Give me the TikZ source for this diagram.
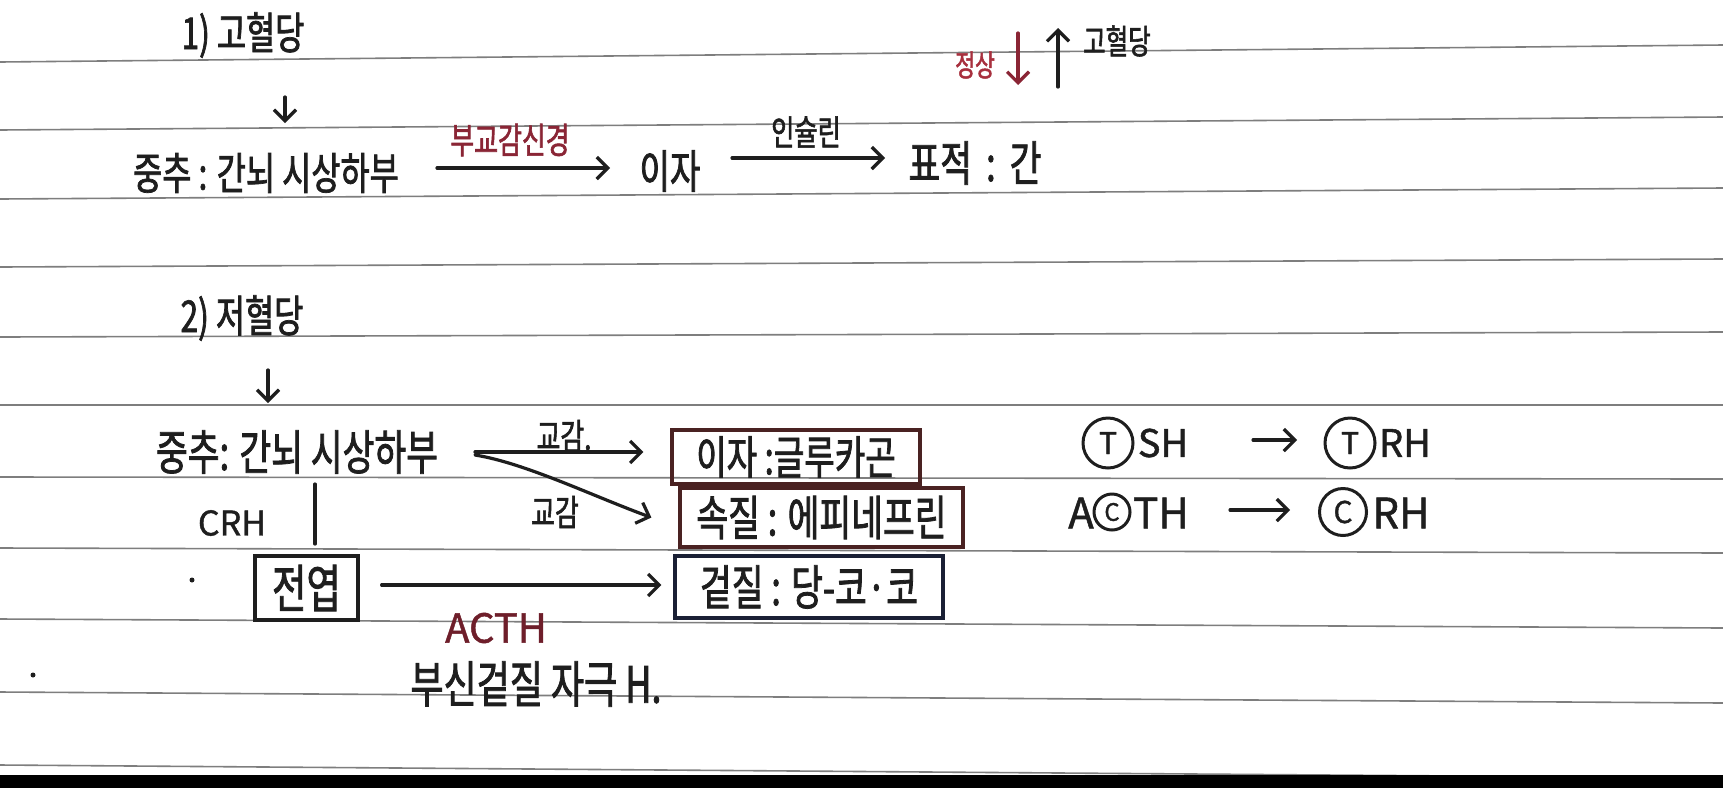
\documentclass[tikz,border=0pt]{standalone}
\usepackage{fontspec}
\usetikzlibrary{arrows.meta}
\newfontfamily\hand[FakeStretch=0.72,FakeBold=1.6]{Noto Sans CJK KR}
\newfontfamily\handL[FakeBold=1.2]{Noto Sans CJK KR}
\newcommand\fsz[1]{\fontsize{#1}{#1}\selectfont}
\newcommand\hf[1]{\hand\fsz{#1}}
\newcommand\lf[1]{\handL\fsz{#1}}
\definecolor{ink}{HTML}{1E1E1E}
\definecolor{maroon}{HTML}{8A2535}
\definecolor{redink}{HTML}{A8303E}
\definecolor{boxr}{HTML}{4A2222}
\definecolor{boxb}{HTML}{1A2035}
\definecolor{rulecol}{HTML}{7E7E7E}
\begin{document}
\begin{tikzpicture}[x=1pt,y=-1pt,
  txt/.style={inner sep=0pt, text=ink},
  arr/.style={-{Straight Barb[length=11pt,width=22pt]}, line width=3.2pt, draw=ink, line cap=round, line join=round},
  boxn/.style={draw, line width=3.2pt, inner sep=0pt, text=ink},
  circ/.style={circle, draw=ink, line width=3pt, inner sep=0pt, text=ink},
  rule/.style={draw=rulecol, line width=1.6pt}]
\useasboundingbox (0,0) rectangle (1723,788);
\fill[white] (0,0) rectangle (1723,788);
% ruled notebook lines
\foreach \a/\b in {62/45,130/117,199/188,267/259,337/332,405/405,477/479,548/553,619/628,692/703,765/778}
  \draw[rule] (0,\a) -- (1723,\b);
\fill[black] (0,775) rectangle (1723,788);

% ---------- section 1 ----------
\node[txt, font={\hf{44}}] (t1) at (243,35) {1) 고혈당};
\coordinate (d1a) at (285,97);
\coordinate (d1b) at (285,123);
\draw[arr] (d1a) -- (d1b);
\node[txt, font={\hf{44}}] (c1) at (266,173) {중추 : 간뇌 시상하부};
\node[txt, font={\hf{46}}] (ija) at (670,171) {이자};
\node[txt, font={\hf{48}}] (pyo) at (975,163) {표적\hspace{14pt}:\hspace{14pt}간};
\draw[arr] ([shift={(171,-5)}]c1.center) -- ([shift={(-60,-3)}]ija.center);
\node[txt, text=maroon, font={\hf{36}}] (l1) at (510,140) {부교감신경};
\draw[arr] ([shift={(62,-13)}]ija.center) -- ([shift={(-90,-5)}]pyo.center);
\node[txt, font={\hf{35}}] (l2) at (806,132) {인슐린};
\node[txt, text=redink, font={\hf{30}}] (js) at (975,65) {정상};
\coordinate (dn1) at (1018,33);
\coordinate (dn2) at (1018,85);
\draw[arr, draw=maroon] (dn1) -- (dn2);
\coordinate (up1) at (1058,87);
\coordinate (up2) at (1058,28);
\draw[arr] (up1) -- (up2);
\node[txt, font={\hf{34}}] (gh) at (1117,41) {고혈당};

% ---------- section 2 ----------
\node[txt, font={\hf{44}}] (t2) at (242,318) {2) 저혈당};
\coordinate (d2a) at (268,370);
\coordinate (d2b) at (268,403);
\draw[arr] (d2a) -- (d2b);
\node[txt, font={\hf{48}}] (c2) at (297,452) {중추: 간뇌 시상하부};

\node[boxn, draw=boxr, minimum width=248pt, minimum height=54pt, font={\hf{46}}] (b1) at (796,457) {이자 :글루카곤};
\node[boxn, draw=boxr, minimum width=283pt, minimum height=59pt, font={\hf{48}}] (b2) at (821.5,517.5) {속질 : 에피네프린};
\node[boxn, draw=boxb, minimum width=268pt, minimum height=62pt, font={\hf{48}}] (b3) at (809,587) {겉질 : 당-코·코};

\draw[arr] ([shift={(178,0)}]c2.center) -- ([shift={(-27,-5)}]b1.west);
\node[txt, font={\hf{36}}] (l3) at (564,436) {교감.};
\draw[arr] ([shift={(178,3)}]c2.center) .. controls +(50,8) and +(-60,-22) .. ([shift={(-27,0)}]b2.west);
\node[txt, font={\hf{36}}] (l4) at (555,512) {교감};

\node[txt, font={\lf{34}}] (crh) at (232,523) {CRH};
\coordinate (v1) at (315,484);
\coordinate (v2) at (315,544);
\draw[line width=3.2pt, draw=ink, line cap=round] (v1) -- (v2);
\node[boxn, draw=ink, minimum width=103pt, minimum height=64pt, font={\hf{52}}] (jy) at (306.5,588) {전엽};
\draw[arr] ([shift={(22,-3)}]jy.east) -- ([shift={(-12,-2)}]b3.west);
\node[txt, text=maroon!80!black, font={\lf{40}}] (acth) at (496,628) {ACTH};
\node[txt, font={\hf{50}}] (bs) at (536,684) {부신겉질 자극 H.};

\fill[ink] (192,580) circle (2.5);
\fill[ink] (33,675) circle (2.5);

% ---------- right side ----------
\node[circ, minimum size=50pt, font={\lf{30}}] (ct1) at (1108,443) {T};
\node[txt, font={\lf{38}}] (sh) at (1163,443) {SH};
\node[circ, minimum size=50pt, font={\lf{30}}] (ct2) at (1350,443) {T};
\node[txt, font={\lf{38}}] (rh1) at (1405,443) {RH};
\draw[arr] ([shift={(90,-3)}]sh.center) -- ([shift={(-53,-3)}]ct2.center);

\node[txt, font={\lf{42}}] (aa) at (1081,513) {A};
\node[circ, minimum size=36pt, font={\lf{24}}] (cc1) at (1112,512) {C};
\node[txt, font={\lf{42}}] (th) at (1161,513) {TH};
\node[circ, minimum size=47pt, font={\lf{30}}] (cc2) at (1343,512) {C};
\node[txt, font={\lf{42}}] (rh2) at (1401,513) {RH};
\draw[arr] ([shift={(69,-3)}]th.center) -- ([shift={(-53,-2)}]cc2.center);
\end{tikzpicture}
\end{document}
